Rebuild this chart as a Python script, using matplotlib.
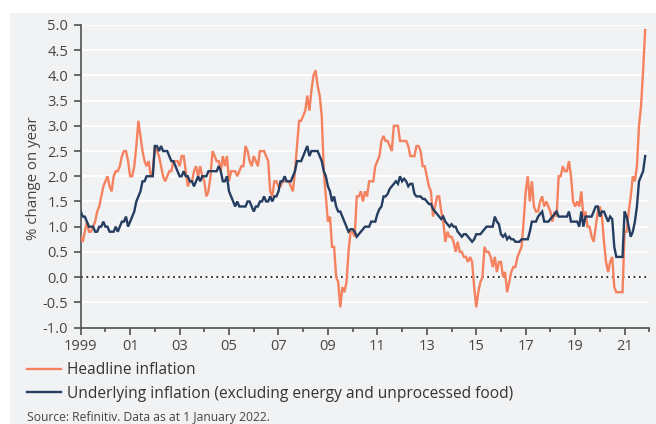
import matplotlib
matplotlib.use("Agg")
import matplotlib.pyplot as plt
import numpy as np
from matplotlib.patches import Rectangle
from matplotlib.lines import Line2D

plt.rcParams['font.family'] = ['Open Sans', 'DejaVu Sans']

# ---------------- data (monthly, year-on-year %) ----------------
start_year = 1999
headline = [
    0.8, 0.7, 0.9, 1.1, 0.9, 0.9, 1.0, 1.1, 1.3, 1.4, 1.6, 1.8,   # 1999
    1.9, 2.0, 1.8, 1.7, 2.0, 2.1, 2.1, 2.2, 2.4, 2.5, 2.5, 2.3,   # 2000
    2.0, 2.0, 2.2, 2.6, 3.1, 2.8, 2.5, 2.3, 2.2, 2.3, 2.0, 2.1,   # 2001
    2.6, 2.5, 2.4, 2.2, 2.0, 1.9, 2.0, 2.1, 2.1, 2.3, 2.3, 2.3,   # 2002
    2.2, 2.4, 2.4, 2.1, 1.8, 1.9, 1.9, 2.1, 2.2, 2.0, 2.2, 2.0,   # 2003
    1.9, 1.6, 1.7, 2.0, 2.5, 2.4, 2.3, 2.3, 2.1, 2.4, 2.2, 2.4,   # 2004
    1.9, 2.1, 2.1, 2.1, 2.0, 2.1, 2.2, 2.2, 2.6, 2.5, 2.3, 2.2,   # 2005
    2.4, 2.3, 2.2, 2.5, 2.5, 2.5, 2.4, 2.3, 1.7, 1.6, 1.9, 1.9,   # 2006
    1.8, 1.8, 1.9, 1.9, 1.9, 1.9, 1.8, 1.7, 2.1, 2.6, 3.1, 3.1,   # 2007
    3.2, 3.3, 3.6, 3.3, 3.7, 4.0, 4.1, 3.8, 3.6, 3.2, 2.1, 1.6,   # 2008
    1.1, 1.2, 0.6, 0.6, 0.0, -0.1, -0.6, -0.2, -0.3, -0.1, 0.5, 0.9,  # 2009
    0.9, 0.8, 1.6, 1.6, 1.7, 1.5, 1.7, 1.6, 1.9, 1.9, 1.9, 2.2,   # 2010
    2.3, 2.4, 2.7, 2.8, 2.7, 2.7, 2.6, 2.5, 3.0, 3.0, 3.0, 2.7,   # 2011
    2.7, 2.7, 2.7, 2.6, 2.4, 2.4, 2.4, 2.6, 2.6, 2.5, 2.2, 2.2,   # 2012
    2.0, 1.8, 1.7, 1.2, 1.4, 1.6, 1.6, 1.3, 1.1, 0.7, 0.9, 0.8,   # 2013
    0.8, 0.7, 0.5, 0.7, 0.5, 0.5, 0.4, 0.4, 0.3, 0.4, 0.3, -0.2,  # 2014
    -0.6, -0.3, -0.1, 0.0, 0.6, 0.5, 0.5, 0.4, 0.2, 0.4, 0.1, 0.3,  # 2015
    0.3, 0.0, 0.1, -0.3, -0.1, 0.1, 0.2, 0.2, 0.4, 0.5, 0.6, 1.1,  # 2016
    1.7, 2.0, 1.5, 1.9, 1.4, 1.3, 1.3, 1.5, 1.6, 1.4, 1.5, 1.4,   # 2017
    1.3, 1.1, 1.3, 1.2, 2.0, 2.0, 2.2, 2.1, 2.1, 2.3, 2.0, 1.5,   # 2018
    1.4, 1.5, 1.4, 1.7, 1.2, 1.3, 1.0, 1.0, 0.8, 0.7, 1.0, 1.3,   # 2019
    1.4, 1.2, 0.7, 0.3, 0.1, 0.3, 0.4, -0.2, -0.3, -0.3, -0.3, -0.3,  # 2020
    0.9, 0.9, 1.3, 1.6, 2.0, 1.9, 2.2, 3.0, 3.4, 4.1, 4.9,        # 2021
]
underlying = [
    1.3, 1.2, 1.2, 1.1, 1.0, 1.0, 1.0, 0.9, 0.9, 1.0, 1.0, 1.1,   # 1999
    1.0, 1.0, 0.9, 0.9, 0.9, 1.0, 0.9, 1.0, 1.1, 1.1, 1.2, 1.0,   # 2000
    1.1, 1.2, 1.3, 1.5, 1.6, 1.7, 1.9, 1.9, 2.0, 2.0, 2.0, 2.0,   # 2001
    2.6, 2.6, 2.5, 2.6, 2.5, 2.5, 2.5, 2.4, 2.3, 2.3, 2.2, 2.1,   # 2002
    2.0, 2.0, 2.1, 2.0, 2.0, 1.9, 1.9, 1.8, 1.9, 2.0, 1.9, 2.0,   # 2003
    2.0, 2.0, 2.1, 2.1, 2.1, 2.1, 2.1, 2.2, 2.1, 1.9, 1.9, 2.0,   # 2004
    1.7, 1.6, 1.5, 1.4, 1.5, 1.4, 1.4, 1.4, 1.4, 1.5, 1.5, 1.4,   # 2005
    1.3, 1.4, 1.4, 1.5, 1.5, 1.6, 1.5, 1.5, 1.6, 1.5, 1.6, 1.6,   # 2006
    1.7, 1.9, 1.9, 2.0, 1.9, 1.9, 1.9, 2.0, 2.1, 2.3, 2.3, 2.3,   # 2007
    2.4, 2.5, 2.6, 2.4, 2.5, 2.5, 2.5, 2.5, 2.4, 2.3, 2.1, 2.0,   # 2008
    1.8, 1.7, 1.5, 1.6, 1.4, 1.3, 1.3, 1.2, 1.1, 1.0, 0.9, 0.95,  # 2009
    0.95, 0.9, 0.8, 0.85, 0.9, 0.95, 1.0, 1.0, 1.0, 1.1, 1.1, 1.1,  # 2010
    1.25, 1.35, 1.4, 1.6, 1.6, 1.65, 1.75, 1.8, 1.85, 1.9, 1.85, 2.0,  # 2011
    1.9, 1.95, 1.9, 1.8, 1.85, 1.85, 1.65, 1.6, 1.6, 1.6, 1.55, 1.55,  # 2012
    1.5, 1.45, 1.45, 1.35, 1.3, 1.25, 1.2, 1.15, 1.2, 1.1, 1.05, 1.0,  # 2013
    1.05, 1.0, 1.0, 0.9, 0.85, 0.8, 0.85, 0.85, 0.8, 0.75, 0.7, 0.75,  # 2014
    0.85, 0.85, 0.85, 0.9, 0.95, 1.0, 1.0, 1.0, 1.0, 1.2, 1.1, 1.05,  # 2015
    0.85, 0.8, 0.85, 0.75, 0.8, 0.75, 0.75, 0.7, 0.7, 0.7, 0.75, 0.75,  # 2016
    0.75, 0.75, 0.9, 1.1, 1.1, 1.1, 1.2, 1.25, 1.3, 1.1, 1.1, 1.1,  # 2017
    1.15, 1.2, 1.25, 1.3, 1.2, 1.2, 1.2, 1.2, 1.2, 1.3, 1.1, 1.1,  # 2018
    1.1, 1.1, 1.0, 1.3, 1.0, 1.2, 1.2, 1.2, 1.2, 1.3, 1.4, 1.4,   # 2019
    1.2, 1.3, 1.3, 1.2, 1.1, 1.2, 1.15, 0.6, 0.4, 0.4, 0.4, 0.4,  # 2020
    1.3, 1.2, 1.0, 0.8, 0.9, 1.1, 1.4, 1.9, 2.0, 2.1, 2.4,        # 2021
]
series_labels = ["Headline inflation",
                 "Underlying inflation (excluding energy and unprocessed food)"]
label_years = list(range(1999, 2022, 2))
year_labels = ["1999", "01", "03", "05", "07", "09", "11", "13", "15", "17", "19", "21"]
y_ticks = [-1.0, -0.5, 0.0, 0.5, 1.0, 1.5, 2.0, 2.5, 3.0, 3.5, 4.0, 4.5, 5.0]
y_label = "% change on year"
source_text = "Source: Refinitiv. Data as at 1 January 2022."

# ---------------- style ----------------
C_HEAD = "#f4825f"
C_CORE = "#243d60"
C_PANEL = "#f1f2f4"
C_AXIS = "#505050"
C_TEXT = "#454545"

W, H = 656, 424
fig = plt.figure(figsize=(W / 100, H / 100), dpi=100)
fig.patch.set_facecolor("white")
fig.patches.append(Rectangle((10 / W, 0), (W - 10) / W, (H - 13) / H,
                             transform=fig.transFigure, facecolor=C_PANEL,
                             edgecolor="none", zorder=-5))

ax = fig.add_axes([80.7 / W, 1 - 327.5 / H, (649.3 - 80.7) / W, (327.5 - 25) / H])
ax.set_facecolor("none")
ax.set_zorder(2)

x = start_year + np.arange(len(headline)) / 12.0
xc = start_year + np.arange(len(underlying)) / 12.0

for v in y_ticks[1:]:
    ax.axhline(v, color="white", lw=1.3, zorder=1)
ax.axhline(0, color="#222222", lw=1.3, ls=(0, (1, 2)), zorder=2)

ax.plot(x, headline, color=C_HEAD, lw=1.7, zorder=3, solid_joinstyle="miter")
ax.plot(xc, underlying, color=C_CORE, lw=1.7, zorder=4, solid_joinstyle="miter")

ax.set_xlim(1999, 2022)
ax.set_ylim(-1, 5)
ax.set_yticks(y_ticks)
ax.set_yticklabels([f"{v:.1f}" for v in y_ticks])
ax.set_xticks(label_years)
ax.set_xticklabels(year_labels)
ax.set_xticks(list(range(1999, 2023)), minor=True)

for s in ["top", "right"]:
    ax.spines[s].set_visible(False)
for s in ["left", "bottom"]:
    ax.spines[s].set_color(C_AXIS)
    ax.spines[s].set_linewidth(1.2)

ax.tick_params(axis="x", which="major", length=5, width=1.2, color=C_AXIS,
               pad=3.5, labelsize=10.5, labelcolor=C_TEXT)
ax.tick_params(axis="x", which="minor", length=3, width=1.2, color=C_AXIS)
ax.tick_params(axis="y", length=5, width=1.2, color=C_AXIS, pad=4,
               labelsize=10.5, labelcolor=C_TEXT)

fig.text(33.5 / W, 1 - 178 / H, y_label, rotation=90, ha="center", va="center",
         fontsize=10.8, color=C_TEXT)

handles = [Line2D([], [], color=C_HEAD, lw=1.7), Line2D([], [], color=C_CORE, lw=1.7)]
leg = fig.legend(handles, series_labels, loc="upper left",
                 bbox_to_anchor=(27 / W, 1 - 362 / H), frameon=False,
                 fontsize=11.2, handlelength=2.2, handletextpad=0.4,
                 labelspacing=0.5, borderpad=0, borderaxespad=0)
for t in leg.get_texts():
    t.set_color("#333333")

fig.text(27 / W, 1 - 418 / H, source_text, fontsize=8.7, va="center",
         ha="left", color=C_TEXT)

fig.savefig("out.png", dpi=100, facecolor=fig.get_facecolor())
